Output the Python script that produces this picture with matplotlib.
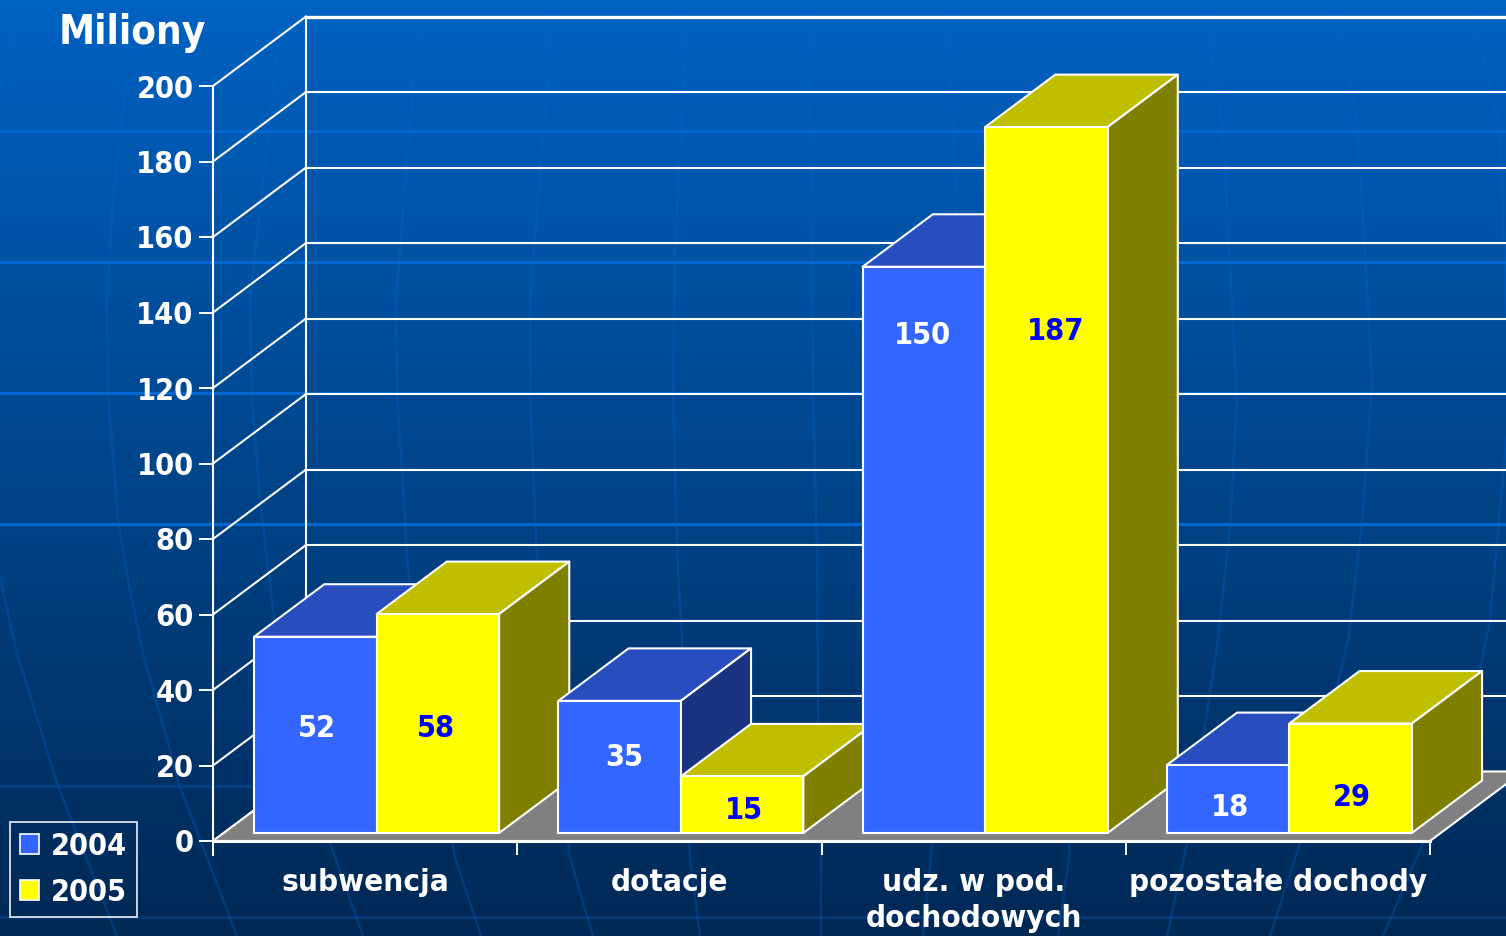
#!/usr/bin/env python3
# -*- coding: utf-8 -*-
import numpy as np
import matplotlib
matplotlib.use("Agg")
import matplotlib.pyplot as plt
from matplotlib.patches import Polygon, Patch

plt.rcParams['font.family'] = ['DejaVu Sans']
plt.rcParams['font.weight'] = 'bold'
plt.rcParams['font.stretch'] = 'condensed'

categories = ['subwencja', 'dotacje', 'udz. w pod.\ndochodowych', 'pozostałe dochody']
years = ['2004', '2005']
values_2004 = [52, 35, 150, 18]
values_2005 = [58, 15, 187, 29]
y_ticks = list(range(0, 201, 20))

# height of the number inside each bar, they were placed by hand in the original
label_y_2004 = [29.7, 22, 134, 9]
label_y_2005 = [29.7, 8, 135, 11.6]
label_shift_2004 = [0.004, 0.016, -0.006, 0.006]
label_shift_2005 = [-0.006, 0.006, 0.03, 0.003]

# background globe, picture pixels
bg_bright = [131, 262, 393, 524]
bg_faint = [2, 786, 917]
bg_meridians = [
    [(25, 0), (0, 90)],
    [(0, 577), (17, 653), (58, 786), (117, 936)],
    [(135, 0), (123, 110), (113, 200), (107, 300), (108, 393), (118, 520), (128, 580), (143, 653), (180, 787), (237, 936)],
    [(283, 0), (250, 300), (252, 400), (260, 500), (273, 610), (330, 843), (363, 936)],
    [(418, 20), (396, 300), (397, 393), (402, 470), (408, 570), (455, 858), (481, 936)],
    [(554, 0), (530, 300), (530, 393), (537, 560), (570, 858), (593, 936)],
    [(688, 0), (675, 250), (673, 393), (677, 550), (682, 640), (690, 858), (700, 936)],
    [(809, 0), (812, 250), (813, 393), (817, 550), (818, 700), (821, 858), (821, 936)],
    [(947, 0), (956, 200), (950, 600), (931, 858), (923, 936)],
    [(1080, 500), (1069, 858), (1058, 936)],
    [(1203, 0), (1223, 130), (1237, 400), (1230, 525), (1218, 640), (1187, 843), (1167, 936)],
    [(1338, 0), (1358, 130), (1372, 380), (1362, 525), (1348, 640), (1300, 843), (1270, 936)],
    [(1470, 0), (1500, 130), (1510, 400), (1490, 620), (1478, 680), (1423, 843), (1383, 936)],
]

W, H = 1506, 936
BLUE, BLUE_TOP, BLUE_SIDE = '#3366FF', '#274DBF', '#1A3380'
YELLOW, YELLOW_TOP, YELLOW_SIDE = '#FFFF00', '#BFBF00', '#808000'
LINE = '#0066D0'

fig = plt.figure(figsize=(W / 100, H / 100), dpi=100)

# background gradient
bg = fig.add_axes([0, 0, 1, 1], zorder=0)
top = np.array([0, 98, 194]) / 255
bottom = np.array([0, 40, 84]) / 255
t = np.linspace(0, 1, 256)[:, None, None]
bg.imshow(top + (bottom - top) * t, aspect='auto', extent=(0, W, H, 0))
for m in bg_meridians:
    pts = np.array(m)
    bg.plot(pts[:, 0], pts[:, 1], color=LINE, alpha=0.3, lw=1.8)
for y in bg_bright:
    bg.plot([0, W], [y, y], color=LINE, lw=2.2)
for y in bg_faint:
    bg.plot([0, W], [y, y], color=LINE, alpha=0.25, lw=2.2)
bg.set_xlim(0, W)
bg.set_ylim(H, 0)
bg.axis('off')

# front plane of the chart
ax = fig.add_axes([213 / W, (H - 841) / H, (1430 - 213) / W, 755 / H], zorder=1)
ax.patch.set_alpha(0)
ax.set_xlim(0, 4)
ax.set_ylim(0, 200)
for s in ax.spines.values():
    s.set_visible(False)

# depth of the box in axis units
DX = 93 / 304.25
DY = 69.5 / 3.775
BAR_W = 0.4026
BAR_D0 = 0.115
BAR_D1 = 0.87


def proj(x, y, d):
    return (x + d * DX, y + d * DY)


def poly(pts, color, lw=1.5, z=2):
    ax.add_patch(Polygon(pts, closed=True, facecolor=color, edgecolor='white',
                         lw=lw, joinstyle='round', clip_on=False, zorder=z))


# walls
for v in y_ticks:
    ax.plot([0, DX], [v, v + DY], color='white', lw=1.5, clip_on=False, zorder=1)
    ax.plot([DX, 4 + DX], [v + DY, v + DY], color='white', lw=2.4 if v == 200 else 1.5,
            clip_on=False, zorder=1)
ax.plot([DX, DX], [DY, 200 + DY], color='white', lw=1.5, clip_on=False, zorder=1)
ax.plot([0, 0], [-3.7, 200], color='white', lw=1.5, clip_on=False, zorder=1)

# floor
poly([proj(0, 0, 0), proj(4, 0, 0), proj(4, 0, 1), proj(0, 0, 1)], '#808080', z=1.5)


def box(x0, x1, v, front, side, roof, z):
    poly([proj(x0, v, BAR_D0), proj(x1, v, BAR_D0), proj(x1, v, BAR_D1), proj(x0, v, BAR_D1)], roof, z=z)
    poly([proj(x1, 0, BAR_D0), proj(x1, 0, BAR_D1), proj(x1, v, BAR_D1), proj(x1, v, BAR_D0)], side, z=z)
    poly([proj(x0, 0, BAR_D0), proj(x1, 0, BAR_D0), proj(x1, v, BAR_D0), proj(x0, v, BAR_D0)], front, z=z)


centers = np.arange(len(categories)) + 0.5025
z = 2
for i, c in enumerate(centers):
    box(c - BAR_W, c, values_2004[i], BLUE, BLUE_SIDE, BLUE_TOP, z)
    box(c, c + BAR_W, values_2005[i], YELLOW, YELLOW_SIDE, YELLOW_TOP, z + 0.1)
    z += 1
    xa = c - BAR_W / 2 + BAR_D0 * DX
    xb = c + BAR_W / 2 + BAR_D0 * DX
    ax.text(xa + label_shift_2004[i], label_y_2004[i], str(values_2004[i]), color='white',
            fontsize=22, ha='center', va='center', zorder=20)
    ax.text(xb + label_shift_2005[i], label_y_2005[i], str(values_2005[i]), color='#0000FF',
            fontsize=22, ha='center', va='center', zorder=20)

# axes and labels
ax.plot([0, 4], [0, 0], color='white', lw=2.2, clip_on=False, zorder=15)
ax.set_yticks(y_ticks)
ax.set_yticklabels([str(v) for v in y_ticks], fontsize=22, color='white')
ax.tick_params(axis='y', colors='white', length=10, width=1.4, pad=4)
ax.set_xticks(range(5))
ax.set_xticklabels([])
ax.tick_params(axis='x', which='major', colors='white', length=10, width=1.4)
ax.set_xticks(np.arange(len(categories)) + 0.5, minor=True)
ax.set_xticklabels(categories, minor=True, fontsize=22.5, color='white', linespacing=1.3)
ax.tick_params(axis='x', which='minor', length=0, pad=19.5)

fig.text(132 / W, 1 - 33 / H, 'Miliony', color='white', fontsize=29, ha='center', va='center')

handles = [Patch(facecolor=BLUE, edgecolor='white', lw=1.2),
           Patch(facecolor=YELLOW, edgecolor='white', lw=1.2)]
leg = fig.legend(handles, years, loc='lower left', bbox_to_anchor=(10 / W, (H - 917) / H),
                 frameon=True, fancybox=False, facecolor='none', edgecolor='white',
                 fontsize=22, labelcolor='white', handlelength=0.62, handleheight=0.62,
                 handletextpad=0.4, borderpad=0.33, borderaxespad=0, labelspacing=0.56)
leg.get_frame().set_linewidth(1.4)

fig.savefig('out.png', dpi=100)
